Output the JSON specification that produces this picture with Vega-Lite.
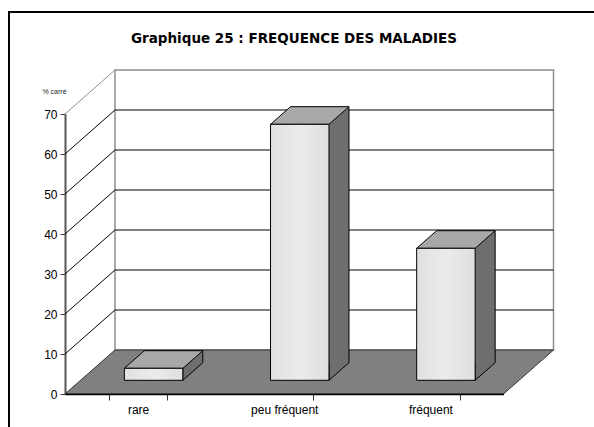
{
  "$schema": "https://vega.github.io/schema/vega-lite/v6.json",
  "width": 600,
  "height": 420,
  "autosize": {"type": "none"},
  "padding": {"left": 9, "top": 12, "right": 0, "bottom": 0},
  "background": "white",
  "title": {
    "text": "Graphique 25 : FREQUENCE DES MALADIES",
    "font": "DejaVu Sans",
    "fontSize": 13.5,
    "fontWeight": "bold",
    "color": "black",
    "anchor": "middle",
    "frame": "group",
    "dx": -15,
    "offset": -33
  },
  "datasets": {
    "bars": [
      {"frequence": "rare", "pct": 3},
      {"frequence": "peu fréquent", "pct": 64},
      {"frequence": "fréquent", "pct": 33}
    ],
    "grid": [
      {"v": 0}, {"v": 10}, {"v": 20}, {"v": 30}, {"v": 40}, {"v": 50}, {"v": 60}, {"v": 70}
    ]
  },
  "config": {
    "view": {"stroke": "black", "strokeWidth": 2},
    "font": "Liberation Sans",
    "axisY": {"title": "% carré", "tickCount": 7, "offset": -56, "domainColor": "#555555", "domainWidth": 2, "tickColor": "#333333", "tickSize": 5, "labelFont": "Liberation Sans", "labelFontSize": 12, "labelColor": "black", "labelPadding": 3, "grid": false, "zindex": 1, "titleAngle": 0, "titleFont": "Liberation Sans", "titleFontSize": 7, "titleFontWeight": "normal", "titleColor": "#222222", "titleX": -11, "titleY": 79, "titleAlign": "center", "titleBaseline": "middle"}
  },
  "resolve": {"scale": {"x": "independent"}},
  "layer": [
    {
      "data": {"name": "grid"},
      "transform": [{"filter": "datum.v === 70"}],
      "mark": {"type": "rect", "fill": "white", "stroke": "#8f8f8f", "strokeWidth": 1.5, "xOffset": 50, "x2Offset": 50, "yOffset": -44, "y2Offset": -44},
      "encoding": {
        "x": {"datum": 0, "type": "quantitative", "scale": {"type": "linear", "domain": [0, 3], "range": [56, 494.5], "nice": false, "zero": false}, "axis": null},
        "x2": {"datum": 3},
        "y": {"field": "v", "type": "quantitative", "title": "% carré", "scale": {"domain": [0, 70], "range": [382, 102], "nice": false, "zero": false}},
        "y2": {"datum": 0}
      }
    },
    {
      "data": {"name": "grid"},
      "transform": [{"filter": "datum.v > 0 && datum.v < 70"}],
      "mark": {"type": "rule", "color": "black", "strokeWidth": 1, "xOffset": 50, "x2Offset": 50, "yOffset": -44},
      "encoding": {
        "x": {"datum": 0, "type": "quantitative", "scale": {"type": "linear", "domain": [0, 3], "range": [56, 494.5], "nice": false, "zero": false}, "axis": null},
        "x2": {"datum": 3},
        "y": {"field": "v", "type": "quantitative", "title": "% carré", "scale": {"domain": [0, 70], "range": [382, 102], "nice": false, "zero": false}}
      }
    },
    {
      "data": {"name": "grid"},
      "transform": [{"filter": "datum.v > 0"}],
      "mark": {"type": "rule", "strokeWidth": 1, "x2Offset": 50, "y2Offset": -44},
      "encoding": {
        "x": {"datum": 0, "type": "quantitative", "scale": {"type": "linear", "domain": [0, 3], "range": [56, 494.5], "nice": false, "zero": false}, "axis": null},
        "x2": {"datum": 0},
        "y": {"field": "v", "type": "quantitative", "title": "% carré", "scale": {"domain": [0, 70], "range": [382, 102], "nice": false, "zero": false}},
        "y2": {"field": "v"},
        "color": {"condition": {"test": "datum.v === 70", "value": "#8f8f8f"}, "value": "black"}
      }
    },
    {
      "data": {"name": "grid"},
      "transform": [{"filter": "datum.v === 0"}],
      "mark": {"type": "point", "shape": "M0,0 L438.5,0 L488.5,-44 L50,-44 Z", "size": 4, "filled": true, "fill": "#808080", "stroke": "#333333", "strokeWidth": 1, "opacity": 1},
      "encoding": {
        "x": {"datum": 0, "type": "quantitative", "scale": {"type": "linear", "domain": [0, 3], "range": [56, 494.5], "nice": false, "zero": false}, "axis": null},
        "y": {"field": "v", "type": "quantitative", "title": "% carré", "scale": {"domain": [0, 70], "range": [382, 102], "nice": false, "zero": false}}
      }
    },
    {
      "data": {"name": "bars"},
      "mark": {"type": "bar", "fill": "#6e6e6e", "xOffset": 35.5, "yOffset": -31.3, "y2Offset": -31.3},
      "encoding": {
        "x": {"field": "frequence", "type": "nominal", "sort": null, "scale": {"type": "band", "domain": ["rare", "peu fréquent", "fréquent"], "range": [56, 494.5], "paddingInner": 0.6, "paddingOuter": 0.3}, "axis": null},
        "y": {"field": "pct", "type": "quantitative", "title": "% carré", "scale": {"domain": [0, 70], "range": [382, 102], "nice": false, "zero": false}},
        "y2": {"datum": 0}
      }
    },
    {
      "data": {"name": "bars"},
      "mark": {"type": "point", "shape": "M0,-17.6 L0,0 L20,-17.6", "size": 4, "filled": true, "fill": "#6e6e6e", "stroke": "black", "strokeWidth": 1, "opacity": 1, "xOffset": 15.5, "yOffset": -13.7},
      "encoding": {
        "x": {"field": "frequence", "type": "nominal", "sort": null, "bandPosition": 1, "scale": {"type": "band", "domain": ["rare", "peu fréquent", "fréquent"], "range": [56, 494.5], "paddingInner": 0.6, "paddingOuter": 0.3}, "axis": null},
        "y": {"datum": 0, "type": "quantitative", "title": "% carré", "scale": {"domain": [0, 70], "range": [382, 102], "nice": false, "zero": false}}
      }
    },
    {
      "data": {"name": "bars"},
      "mark": {"type": "point", "shape": "M0,0 L58.5,0 L78.5,-17.6 L20,-17.6 Z", "size": 4, "filled": true, "fill": "#a8a8a8", "stroke": "black", "strokeWidth": 1, "opacity": 1, "xOffset": 15.5, "yOffset": -13.7},
      "encoding": {
        "x": {"field": "frequence", "type": "nominal", "sort": null, "bandPosition": 0, "scale": {"type": "band", "domain": ["rare", "peu fréquent", "fréquent"], "range": [56, 494.5], "paddingInner": 0.6, "paddingOuter": 0.3}, "axis": null},
        "y": {"field": "pct", "type": "quantitative", "title": "% carré", "scale": {"domain": [0, 70], "range": [382, 102], "nice": false, "zero": false}}
      }
    },
    {
      "data": {"name": "bars"},
      "mark": {
        "type": "bar",
        "fill": {"gradient": "linear", "x1": 0, "x2": 1, "y1": 0, "y2": 0, "stops": [{"offset": 0, "color": "#e0e0e0"}, {"offset": 0.5, "color": "#ebebeb"}, {"offset": 1, "color": "#dedede"}]},
        "stroke": "black",
        "strokeWidth": 1,
        "xOffset": 15.5,
        "yOffset": -13.7,
        "y2Offset": -13.7
      },
      "encoding": {
        "x": {
          "field": "frequence", "type": "nominal", "sort": null,
          "scale": {"type": "band", "domain": ["rare", "peu fréquent", "fréquent"], "range": [56, 494.5], "paddingInner": 0.6, "paddingOuter": 0.3},
          "axis": {"title": null, "tickBand": "extent", "offset": -38, "domainColor": "black", "domainWidth": 1.5, "tickColor": "#333333", "tickSize": 6, "labelFont": "Liberation Sans", "labelFontSize": 12, "labelColor": "black", "labelPadding": 4, "labelAngle": 0, "grid": false, "zindex": 1}
        },
        "y": {"field": "pct", "type": "quantitative", "title": "% carré", "scale": {"domain": [0, 70], "range": [382, 102], "nice": false, "zero": false}},
        "y2": {"datum": 0}
      }
    },
    {
      "data": {"name": "bars"},
      "mark": {"type": "rule", "color": "black", "strokeWidth": 1, "xOffset": 35.5, "yOffset": -31.3, "y2Offset": -31.3},
      "encoding": {
        "x": {"field": "frequence", "type": "nominal", "sort": null, "bandPosition": 1, "scale": {"type": "band", "domain": ["rare", "peu fréquent", "fréquent"], "range": [56, 494.5], "paddingInner": 0.6, "paddingOuter": 0.3}, "axis": null},
        "y": {"field": "pct", "type": "quantitative", "title": "% carré", "scale": {"domain": [0, 70], "range": [382, 102], "nice": false, "zero": false}},
        "y2": {"datum": 0}
      }
    }
  ]
}
